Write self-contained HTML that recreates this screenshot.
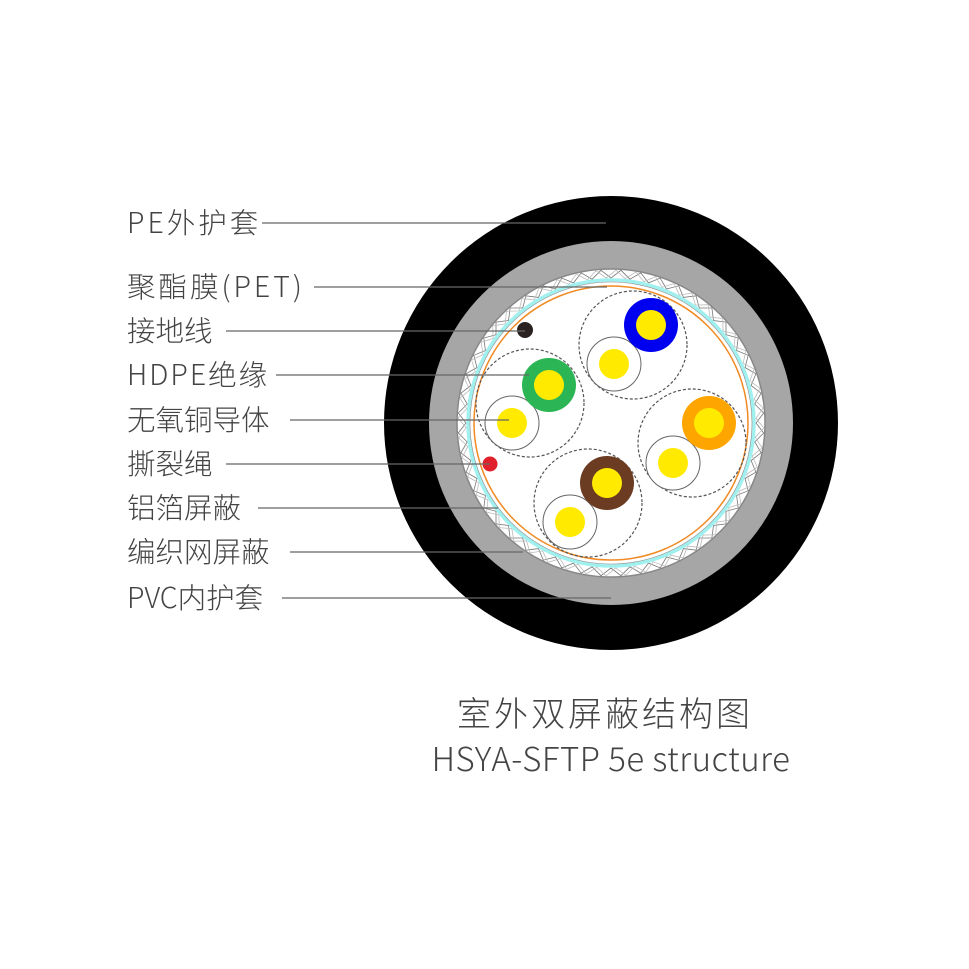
<!DOCTYPE html>
<html><head><meta charset="utf-8"><style>
html,body{margin:0;padding:0;background:#fff;width:969px;height:969px;overflow:hidden}
svg text{font-family:"Noto Sans CJK SC","Liberation Sans",sans-serif;font-weight:300;fill:#444}
</style></head><body>
<svg id="s" width="969" height="969" viewBox="0 0 969 969" xmlns="http://www.w3.org/2000/svg">
<circle cx="611" cy="423" r="227" fill="#000"/>
<circle cx="611" cy="423" r="182" fill="#a6a6a6"/>
<circle cx="611" cy="423" r="154" fill="#fff" stroke="#888" stroke-width="1.5"/>
<g id="braid" fill="none" stroke="#777" stroke-width="0.8"></g>
<circle cx="611" cy="423" r="143" fill="none" stroke="#9ff0ee" stroke-width="3.5"/>
<circle cx="611" cy="423" r="141" fill="none" stroke="#888" stroke-width="0.6"/>
<circle cx="611" cy="423" r="137" fill="#fff" stroke="#f08a24" stroke-width="1.5"/>
<g fill="none" stroke="#555" stroke-width="1.2" stroke-dasharray="3,2">
<circle cx="633" cy="345" r="54"/><circle cx="530" cy="403" r="54"/>
<circle cx="692" cy="443" r="54"/><circle cx="588" cy="503" r="54"/>
</g>
<g fill="#fff" stroke="#666" stroke-width="1">
<circle cx="614" cy="364" r="27"/><circle cx="512" cy="423" r="27"/>
<circle cx="673" cy="463" r="27"/><circle cx="570" cy="522" r="27"/>
</g>
<circle cx="651" cy="325" r="27" fill="#0000f0"/>
<circle cx="549" cy="385" r="27" fill="#2bb554"/>
<circle cx="709" cy="423" r="27" fill="#ffa500"/>
<circle cx="607" cy="483" r="27" fill="#6b3b22"/>
<g fill="#ffea00">
<circle cx="651" cy="325" r="15"/><circle cx="549" cy="385" r="15"/>
<circle cx="709" cy="423" r="15"/><circle cx="607" cy="483" r="15"/>
<circle cx="614" cy="364" r="15"/><circle cx="512" cy="423" r="15"/>
<circle cx="673" cy="463" r="15"/><circle cx="570" cy="522" r="15"/>
</g>
<circle cx="525" cy="330" r="8" fill="#2a2221"/>
<circle cx="490" cy="464" r="7.5" fill="#e0202a"/>
<g stroke="#666" stroke-width="1.3">
<line x1="262" y1="223" x2="606" y2="223"/>
<line x1="314" y1="287" x2="607" y2="287"/>
<line x1="226" y1="331" x2="525" y2="331"/>
<line x1="276" y1="375" x2="529" y2="375"/>
<line x1="290" y1="420" x2="509" y2="420"/>
<line x1="226" y1="464" x2="490" y2="464"/>
<line x1="258" y1="508" x2="498" y2="508"/>
<line x1="290" y1="552" x2="523" y2="552"/>
<line x1="282" y1="598" x2="611" y2="598"/>
</g>
<g font-size="28.5">
<text x="127" y="233" letter-spacing="3">PE外护套</text>
<text x="127" y="297" letter-spacing="3">聚酯膜(PET)</text>
<text x="127" y="341">接地线</text>
<text x="127" y="385" letter-spacing="2">HDPE绝缘</text>
<text x="127" y="430">无氧铜导体</text>
<text x="127" y="474">撕裂绳</text>
<text x="127" y="518">铝箔屏蔽</text>
<text x="127" y="562">编织网屏蔽</text>
<text x="127" y="608">PVC内护套</text>
</g>
<text x="605" y="726" font-size="34" text-anchor="middle" letter-spacing="3">室外双屏蔽结构图</text>
<text x="611" y="771" font-size="33" text-anchor="middle" letter-spacing="0.5">HSYA-SFTP 5e structure</text>
</svg>
<script>
var g=document.getElementById('braid'),cx=611,cy=423,n=48,d1='',d2='';
for(var i=0;i<=n*2;i++){var a=i*Math.PI/n,r=(i%2)?153:145;var x=cx+r*Math.cos(a),y=cy+r*Math.sin(a);d1+=(i?'L':'M')+x.toFixed(1)+' '+y.toFixed(1);
var a2=a+Math.PI/(2*n),r2=(i%2)?145:153;x=cx+r2*Math.cos(a2);y=cy+r2*Math.sin(a2);d2+=(i?'L':'M')+x.toFixed(1)+' '+y.toFixed(1);}
g.innerHTML='<path d="'+d1+'"/><path d="'+d2+'" stroke="#bbb"/>';
</script>
</body></html>
